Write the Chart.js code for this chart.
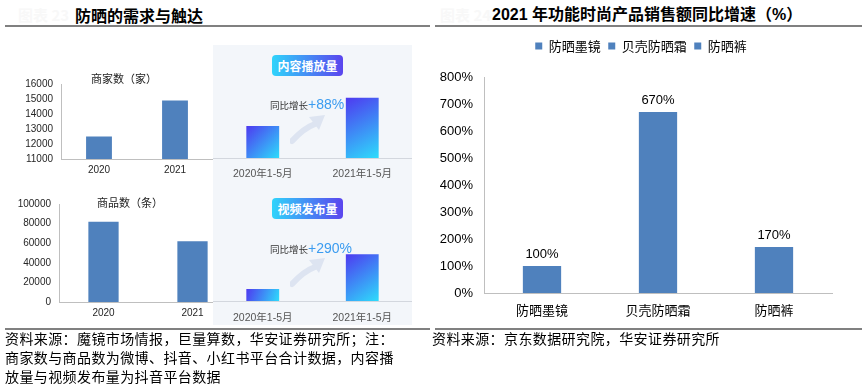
<!DOCTYPE html>
<html>
<head>
<meta charset="utf-8">
<script src="https://cdn.jsdelivr.net/npm/chart.js@4.4.0/dist/chart.umd.min.js"></script>
<style>
body { margin:0; width:866px; height:391px; background:#fff; position:relative; overflow:hidden;
       font-family:"Noto Sans CJK SC", sans-serif; }
.abs { position:absolute; white-space:nowrap; }
canvas { position:absolute; }
.rule { position:absolute; height:1.5px; background:#808080; }
.title { font-weight:bold; font-size:16px; line-height:20px; color:#000; }
.ghost { font-size:15px; line-height:20px; color:#f8f8f8; font-weight:bold; }
.panel { position:absolute; left:213px; top:45px; width:199px; height:280px; background:#f3f6fa; }
.badge { position:absolute; left:272px; width:71px; height:21px; border-radius:4px;
         background:linear-gradient(90deg,#2fd4fb,#5b45ee); color:#fff; font-size:12px; font-weight:bold;
         text-align:center; line-height:21px; }
.yoy { position:absolute; left:270px; height:20px; line-height:20px; white-space:nowrap; }
.yoy .t { font-size:9.5px; color:#333; }
.yoy .v { font-size:14px; color:#3b9cf0; font-family:"Liberation Sans", sans-serif; }
.chartTitle { font-size:11px; color:#222; line-height:14px; }
.src { font-size:14px; line-height:19px; letter-spacing:0.4px; color:#000; }
</style>
</head>
<body>
<div class="abs ghost" style="left:18px;top:5px;">图表 23</div>
<div class="abs title" style="left:75px;top:5px;">防晒的需求与触达</div>
<div class="rule" style="left:5px;top:25px;width:425px;"></div>

<div class="abs ghost" style="left:440px;top:5px;">图表 24</div>
<div class="abs title" style="left:492px;top:5px;font-family:'Liberation Sans','Noto Sans CJK SC',sans-serif;">2021 年功能时尚产品销售额同比增速（%）</div>
<div class="rule" style="left:435px;top:25px;width:427px;"></div>

<canvas id="merchantChart" width="213" height="114" style="left:0;top:70px;"></canvas>
<div class="abs chartTitle" style="left:91px;top:71px;">商家数（家）</div>

<canvas id="productChart" width="245" height="134" style="left:0;top:190px;"></canvas>
<div class="abs chartTitle" style="left:97px;top:195px;">商品数（条）</div>

<div class="panel"></div>
<div class="badge" style="top:55px;">内容播放量</div>
<div class="badge" style="top:198px;">视频发布量</div>

<svg class="abs" style="left:290px;top:113px;" width="40" height="32" viewBox="0 0 40 32">
  <path d="M2,28 Q14,15 25,11" stroke="#dde4f1" stroke-width="6" fill="none" stroke-linecap="round"/>
  <polygon points="19,4 35,2 29,17" fill="#dde4f1"/>
</svg>
<svg class="abs" style="left:290px;top:256px;" width="40" height="32" viewBox="0 0 40 32">
  <path d="M2,28 Q14,15 25,11" stroke="#dde4f1" stroke-width="6" fill="none" stroke-linecap="round"/>
  <polygon points="19,4 35,2 29,17" fill="#dde4f1"/>
</svg>

<canvas id="playChart" width="199" height="101" style="left:213px;top:85px;"></canvas>
<canvas id="videoChart" width="199" height="84" style="left:213px;top:245px;"></canvas>
<div class="yoy" style="top:92px;"><span class="t">同比增长</span><span class="v">+88%</span></div>
<div class="yoy" style="top:236px;"><span class="t">同比增长</span><span class="v">+290%</span></div>

<canvas id="growthChart" width="436" height="286" style="left:430px;top:32px;"></canvas>

<div class="rule" style="left:5px;top:328px;width:425px;"></div>
<div class="rule" style="left:435px;top:328px;width:427px;"></div>
<div class="abs src" style="left:5px;top:329px;">资料来源：魔镜市场情报，巨量算数，华安证券研究所；注：<br>商家数与商品数为微博、抖音、小红书平台合计数据，内容播<br>放量与视频发布量为抖音平台数据</div>
<div class="abs src" style="left:432px;top:329px;">资料来源：京东数据研究院，华安证券研究所</div>

<script>
// data
var years = ['2020', '2021'];
var merchantCounts = [12500, 14900];
var productCounts = [82000, 62000];
var periods = ['2020年1-5月', '2021年1-5月'];
var playVolume = [100, 188];     // index, 2020 = 100 (+88%)
var videoVolume = [100, 390];    // index, 2020 = 100 (+290%)
var productCategories = ['防晒墨镜', '贝壳防晒霜', '防晒裤'];
var growthRates = [100, 670, 170];

Chart.defaults.font.family = '"Liberation Sans", "Noto Sans CJK SC", sans-serif';
Chart.defaults.animation = false;
Chart.defaults.plugins.legend.display = false;
Chart.defaults.plugins.tooltip.enabled = false;

var excelBlue = '#4f81bd';

function plainBars(id, labels, values, yMin, yMax, yStep, yWidth, xHeight, padTop, padRight) {
    return new Chart(document.getElementById(id), {
        type: 'bar',
        data: {
            labels: labels,
            datasets: [{ data: values, backgroundColor: excelBlue, barPercentage: 0.34, categoryPercentage: 1 }]
        },
        options: {
            responsive: false,
            layout: { padding: { top: padTop, right: padRight, left: 0, bottom: 0 } },
            scales: {
                x: {
                    grid: { display: false, drawTicks: false },
                    border: { color: '#bfbfbf' },
                    ticks: { color: '#262626', font: { size: 10 }, padding: 5 },
                    afterFit: function (s) { s.height = xHeight; }
                },
                y: {
                    min: yMin, max: yMax,
                    grid: { display: false, drawTicks: false },
                    border: { color: '#bfbfbf' },
                    ticks: { stepSize: yStep, color: '#262626', font: { size: 10 }, padding: 8,
                             callback: function (v) { return String(v); } },
                    afterFit: function (s) { s.width = yWidth; }
                }
            }
        }
    });
}

plainBars('merchantChart', years, merchantCounts, 11000, 16000, 1000, 61, 25, 11, 0);
plainBars('productChart', years, productCounts, 0, 100000, 20000, 59, 22, 11, 8);

function barGradient(context) {
    var chart = context.chart;
    var xs = chart.scales.x, ys = chart.scales.y;
    if (!xs || !ys || !chart.chartArea) return '#4b44f0';
    var cx = xs.getPixelForValue(context.dataIndex);
    var half = xs.width / chart.data.labels.length * 0.33 / 2;
    var top = ys.getPixelForValue(context.raw);
    var g = chart.ctx.createLinearGradient(cx - half, top, cx + half, ys.bottom);
    g.addColorStop(0, '#4e39f0');
    g.addColorStop(1, '#2edcfb');
    return g;
}

function gradientBars(id, values, yMax, padTop, labelPad) {
    return new Chart(document.getElementById(id), {
        type: 'bar',
        data: {
            labels: periods,
            datasets: [{ data: values, backgroundColor: barGradient, barPercentage: 0.33, categoryPercentage: 1 }]
        },
        options: {
            responsive: false,
            layout: { padding: { top: padTop, right: 0, left: 0, bottom: 0 } },
            scales: {
                x: {
                    grid: { display: false, drawTicks: false },
                    border: { color: '#d3d7de' },
                    ticks: { color: '#555', font: { size: 10.5 }, padding: labelPad },
                    afterFit: function (s) { s.height = 28; }
                },
                y: { display: false, min: 0, max: yMax }
            }
        }
    });
}

gradientBars('playChart', playVolume, 200, 9, 10);
gradientBars('videoChart', videoVolume, 400, 8, 11);

var valueLabels = {
    id: 'valueLabels',
    afterDatasetsDraw: function (chart) {
        var ctx = chart.ctx;
        var meta = chart.getDatasetMeta(0);
        ctx.save();
        ctx.font = '13px "Liberation Sans"';
        ctx.fillStyle = '#000';
        ctx.textAlign = 'center';
        ctx.textBaseline = 'bottom';
        meta.data.forEach(function (bar, i) {
            ctx.fillText(growthRates[i] + '%', bar.x, bar.y - 5);
        });
        ctx.restore();
    }
};

var legendTweak = {
    id: 'legendTweak',
    beforeInit: function (chart) {
        var fit = chart.legend.fit;
        chart.legend.fit = function () { fit.call(this); this.height = 45; };
    },
    afterLayout: function (chart) {
        chart.legend.left += 10;
        chart.legend.right += 10;
    }
};

new Chart(document.getElementById('growthChart'), {
    type: 'bar',
    data: {
        labels: productCategories,
        datasets: [{ data: growthRates, backgroundColor: excelBlue, barPercentage: 0.33, categoryPercentage: 1 }]
    },
    options: {
        responsive: false,
        layout: { padding: { top: 0, right: 34, left: 0, bottom: 0 } },
        plugins: {
            legend: {
                display: true,
                position: 'top',
                labels: {
                    boxWidth: 7, boxHeight: 7, padding: 7.5, color: '#222',
                    font: { size: 13, family: '"Noto Sans CJK SC", sans-serif' },
                    generateLabels: function (chart) {
                        return chart.data.labels.map(function (name, i) {
                            return { text: name, fillStyle: excelBlue, strokeStyle: excelBlue, lineWidth: 0, hidden: false, index: i };
                        });
                    }
                }
            }
        },
        scales: {
            x: {
                grid: { display: false, drawTicks: false },
                border: { color: '#bfbfbf' },
                ticks: { color: '#000', font: { size: 13, family: '"Noto Sans CJK SC", sans-serif' }, padding: 9 },
                afterFit: function (s) { s.height = 25; }
            },
            y: {
                min: 0, max: 800,
                grid: { display: false, drawTicks: false },
                border: { color: '#bfbfbf' },
                ticks: { stepSize: 100, color: '#000', font: { size: 13 }, padding: 11,
                         callback: function (v) { return v + '%'; } },
                afterFit: function (s) { s.width = 54; }
            }
        }
    },
    plugins: [valueLabels, legendTweak]
});
</script>
</body>
</html>
